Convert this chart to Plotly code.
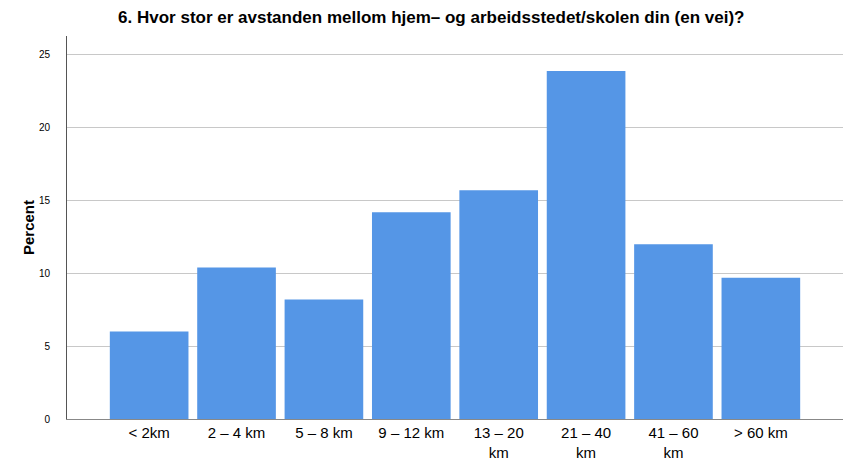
import plotly.graph_objects as go

categories = ["< 2km", "2 – 4 km", "5 – 8 km", "9 – 12 km", "13 – 20<br>km", "21 – 40<br>km", "41 – 60<br>km", "> 60 km"]
percent = [6.0, 10.4, 8.2, 14.2, 15.7, 23.9, 12.0, 9.7]
y_ticks = [0, 5, 10, 15, 20, 25]

fig = go.Figure(go.Bar(
    x=list(range(len(categories))), y=percent,
    marker=dict(color="#5596E6", line=dict(width=0)),
    hoverinfo="skip",
))

fig.update_layout(
    width=854, height=462,
    margin=dict(l=67, r=11, t=36, b=43),
    paper_bgcolor="white", plot_bgcolor="white",
    bargap=0.1,
    showlegend=False,
    title=dict(text="<b>6. Hvor stor er avstanden mellom hjem– og arbeidsstedet/skolen din (en vei)?</b>",
               x=0.505, xanchor="center", y=0.975, yanchor="top",
               font=dict(family="Liberation Sans, Arial", size=17, color="black")),
    font=dict(family="Liberation Sans, Arial", color="black"),
)
fig.update_xaxes(
    tickmode="array", tickvals=list(range(len(categories))), ticktext=categories,
    range=[-0.94, 7.94], showgrid=False, showline=True, linecolor="#888888", linewidth=1,
    ticks="", tickfont=dict(size=15), zeroline=False,
    automargin=False,
)
fig.update_yaxes(
    range=[0, 26.3], tickmode="array", tickvals=y_ticks,
    showgrid=True, gridcolor="#C8C8C8", gridwidth=1,
    showline=True, linecolor="#555555", linewidth=1,
    ticks="outside", ticklen=14, tickcolor="white",
    tickfont=dict(size=10), zeroline=False, automargin=False,
    title=dict(text="<b>Percent</b>", font=dict(size=15), standoff=0),
)
fig.write_html("out.html")
